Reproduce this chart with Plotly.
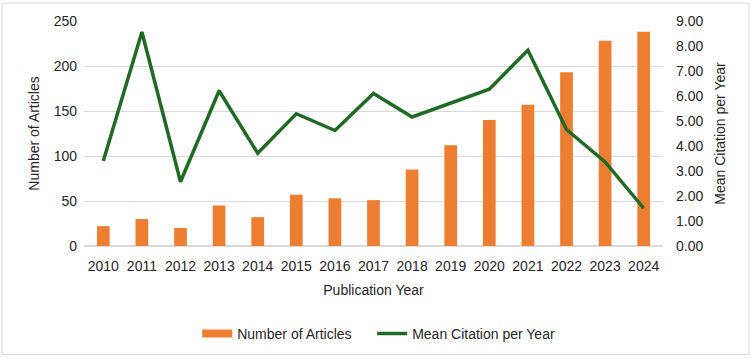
import plotly.graph_objects as go

years = ["2010", "2011", "2012", "2013", "2014", "2015", "2016", "2017",
         "2018", "2019", "2020", "2021", "2022", "2023", "2024"]
articles = [22, 30, 20, 45, 32, 57, 53, 51, 85, 112, 140, 157, 193, 228, 238]
mean_citation = [3.40, 8.56, 2.57, 6.21, 3.71, 5.29, 4.62, 6.10, 5.16, 5.72,
                 6.27, 7.83, 4.66, 3.36, 1.51]

ORANGE = "#ED7D31"
GREEN = "#1F6B24"
FONT = "Liberation Sans"
fig = go.Figure()
fig.add_trace(go.Bar(x=years, y=articles, name="Number of Articles",
                     marker=dict(color=ORANGE, line=dict(width=0)),
                     showlegend=False, legendgroup="a"))
# legend-only entry drawn as a wide rectangle swatch like the original
fig.add_trace(go.Scatter(x=[None], y=[None],
                         name="Number of Articles" + "\u00a0" * 4, mode="lines",
                         line=dict(color=ORANGE, width=8), legendgroup="a"))
fig.add_trace(go.Scatter(x=years, y=mean_citation, name="Mean Citation per Year",
                         yaxis="y2", mode="lines",
                         line=dict(color=GREEN, width=3.5)))

fig.update_layout(
    width=753, height=361,
    margin=dict(l=84, r=90, t=21, b=114),
    paper_bgcolor="white", plot_bgcolor="white",
    font=dict(family=FONT, size=14, color="#262626"),
    bargap=0.67,
    showlegend=True,
    legend=dict(orientation="h", x=0.509, xanchor="center", y=-0.385, yanchor="middle",
                font=dict(size=14), traceorder="normal"),
    xaxis=dict(type="category", showgrid=False, showline=False, ticks="",
               tickfont=dict(size=14), ticklabelstandoff=10,
               title=dict(text="Publication Year", font=dict(size=14), standoff=12)),
    yaxis=dict(range=[0, 250], dtick=50, showgrid=True, gridcolor="#D9D9D9",
               gridwidth=1, zeroline=True, zerolinecolor="#D9D9D9",
               showline=False, ticks="", tickfont=dict(size=14),
               ticklabelstandoff=6,
               title=dict(text="Number of Articles", font=dict(size=14), standoff=10)),
    yaxis2=dict(range=[0, 9], dtick=1, tickformat=".2f", overlaying="y", side="right",
                showgrid=False, zeroline=False, showline=False, ticks="",
                tickfont=dict(size=14), ticklabelstandoff=12,
                title=dict(text="Mean Citation per Year", font=dict(size=14), standoff=12)),
    shapes=[dict(type="rect", xref="paper", yref="paper",
                 x0=-82/579, x1=(749-84)/579, y0=-(356-247)/226, y1=(247-3)/226,
                 line=dict(color="#D9D9D9", width=1), fillcolor="rgba(0,0,0,0)",
                 layer="below")],
)

fig.write_html("out.html")
